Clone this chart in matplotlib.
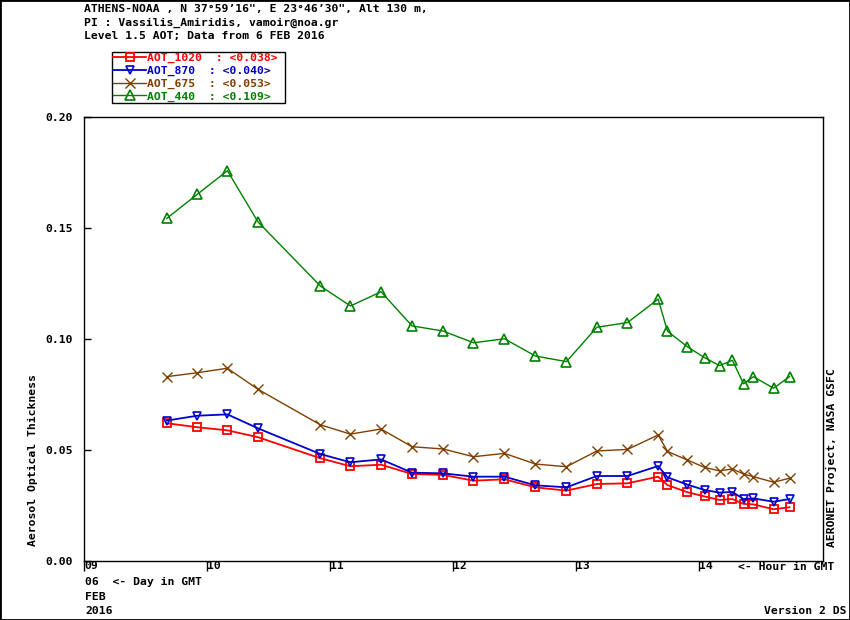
import matplotlib
matplotlib.use('Agg')
import matplotlib.pyplot as plt
from matplotlib.patches import Rectangle
from matplotlib.font_manager import FontProperties

# hour in GMT for each measurement
hours = [9.670, 9.919, 10.163, 10.412, 10.919, 11.163, 11.412, 11.664, 11.916,
         12.163, 12.415, 12.667, 12.919, 13.166, 13.415, 13.664, 13.740, 13.902,
         14.041, 14.163, 14.268, 14.358, 14.439, 14.602, 14.732]

aot_1020 = [0.0620, 0.0602, 0.0588, 0.0557, 0.0462, 0.0426, 0.0433, 0.0391, 0.0387,
            0.0361, 0.0367, 0.0331, 0.0316, 0.0346, 0.0349, 0.0379, 0.0341, 0.0309,
            0.0290, 0.0274, 0.0278, 0.0256, 0.0254, 0.0232, 0.0241]
aot_870 = [0.0632, 0.0654, 0.0660, 0.0597, 0.0481, 0.0444, 0.0457, 0.0397, 0.0394,
           0.0379, 0.0379, 0.0340, 0.0331, 0.0382, 0.0382, 0.0427, 0.0376, 0.0343,
           0.0319, 0.0307, 0.0310, 0.0278, 0.0281, 0.0266, 0.0278]
aot_675 = [0.0830, 0.0848, 0.0868, 0.0773, 0.0613, 0.0571, 0.0594, 0.0514, 0.0504,
           0.0469, 0.0484, 0.0436, 0.0424, 0.0495, 0.0502, 0.0567, 0.0493, 0.0454,
           0.0421, 0.0405, 0.0414, 0.0391, 0.0379, 0.0354, 0.0372]
aot_440 = [0.1544, 0.1653, 0.1759, 0.1528, 0.1239, 0.1149, 0.1213, 0.1059, 0.1036,
           0.0983, 0.1001, 0.0923, 0.0898, 0.1053, 0.1074, 0.1180, 0.1035, 0.0965,
           0.0916, 0.0880, 0.0904, 0.0798, 0.0830, 0.0778, 0.0830]

series_names = ['AOT_1020  : <0.038>', 'AOT_870  : <0.040>',
                'AOT_675  : <0.053>', 'AOT_440  : <0.109>']
hour_ticks = [9, 10, 11, 12, 13, 14]
hour_labels = ['09', '10', '11', '12', '13', '14']
aot_ticks = [0.00, 0.05, 0.10, 0.15, 0.20]

mono = {'family': 'DejaVu Sans Mono', 'weight': 'bold', 'size': 8.2}
W, H = 850, 620

fig = plt.figure(figsize=(8.5, 6.2), dpi=100)
ax = fig.add_axes([84.3 / W, 1 - 560.7 / H, (822.5 - 84.3) / W, (560.7 - 117.3) / H])

l1, = ax.plot(hours, aot_1020, color='#ff0000', lw=1.3, marker='s', ms=5.8,
              mfc='none', mec='#ff0000', mew=1.3)
l2, = ax.plot(hours, aot_870, color='#0000cc', lw=1.3, marker='v', ms=6,
              mfc='none', mec='#0000cc', mew=1.2)
l3, = ax.plot(hours, aot_675, color='#7f3f00', lw=1.0, marker='x', ms=6.5,
              mec='#7f3f00', mew=1.0)
l4, = ax.plot(hours, aot_440, color='#008000', lw=1.0, marker='^', ms=6.5,
              mfc='none', mec='#008000', mew=1.2)

ax.set_xlim(9, 15)
ax.set_ylim(0, 0.20)
ax.set_xticks(hour_ticks)
ax.set_xticklabels(hour_labels, fontdict=mono, ha='left')
ax.set_yticks(aot_ticks)
ax.set_yticklabels(['%.2f' % v for v in aot_ticks], fontdict=mono)
ax.tick_params(axis='x', direction='out', length=7, width=1, pad=-7)
ax.tick_params(axis='y', direction='in', length=5, width=1, pad=8)
for s in ax.spines.values():
    s.set_linewidth(1.0)

# header
fig.text(84 / W, 1 - 9 / H, 'ATHENS-NOAA , N 37°59’16", E 23°46’30", Alt 130 m,',
         fontdict=mono, va='center')
fig.text(84 / W, 1 - 22.5 / H, 'PI : Vassilis_Amiridis, vamoir@noa.gr',
         fontdict=mono, va='center')
fig.text(84 / W, 1 - 36 / H, 'Level 1.5 AOT; Data from 6 FEB 2016',
         fontdict=mono, va='center')

leg = fig.legend([l1, l2, l3, l4], [n + ' ' for n in series_names], loc='upper left',
                 bbox_to_anchor=(112 / W, 1 - 52 / H), bbox_transform=fig.transFigure,
                 prop=FontProperties(**mono), labelcolor='linecolor', frameon=True,
                 fancybox=False, edgecolor='black', framealpha=1, borderpad=0.1,
                 borderaxespad=0, handlelength=2.9, handletextpad=0.05,
                 labelspacing=0.22, numpoints=1)
leg.get_frame().set_linewidth(1.0)

# side labels
fig.text(33 / W, 1 - 460 / H, 'Aerosol Optical Thickness', fontdict=mono,
         rotation=90, ha='center', va='center')
fig.text(831 / W, 1 - 458 / H, 'AERONET Project, NASA GSFC', fontdict=mono,
         rotation=90, ha='center', va='center')

# bottom notes
fig.text(738 / W, 1 - 566.5 / H, '<- Hour in GMT', fontdict=mono, va='center')
fig.text(85 / W, 1 - 581.5 / H, '06  <- Day in GMT', fontdict=mono, va='center')
fig.text(85 / W, 1 - 596.5 / H, 'FEB', fontdict=mono, va='center')
fig.text(85 / W, 1 - 611 / H, '2016', fontdict=mono, va='center')
fig.text(846 / W, 1 - 611 / H, 'Version 2 DS', fontdict=mono, va='center', ha='right')

fig.patches.append(Rectangle((0, 0), 1, 1, transform=fig.transFigure, fill=False,
                             edgecolor='black', lw=2))

fig.savefig('out.png', dpi=100)
